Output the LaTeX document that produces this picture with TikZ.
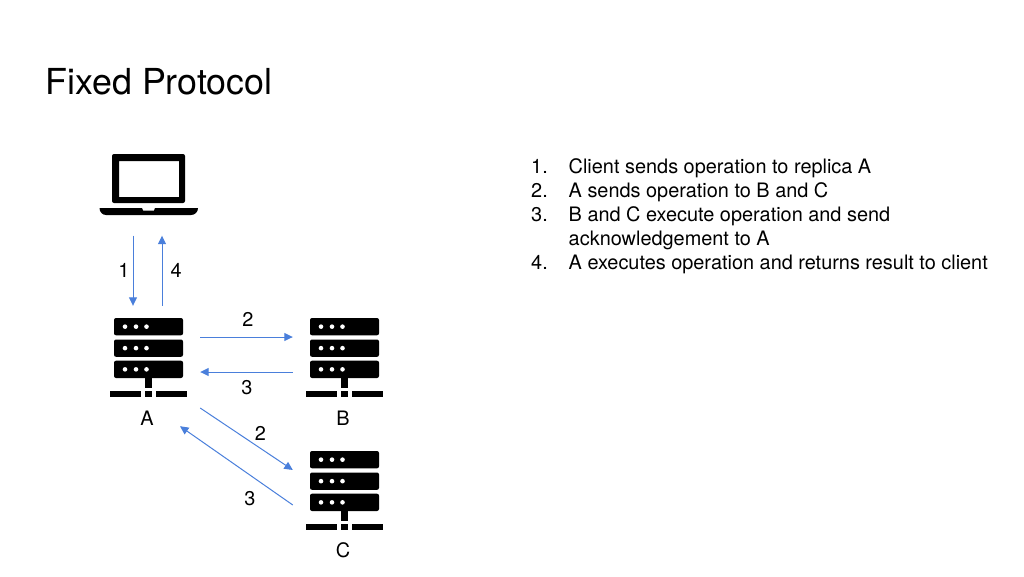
\documentclass[tikz,border=0pt]{standalone}
\usepackage{fontspec}
\setmainfont{TeX Gyre Heros}
\usetikzlibrary{arrows.meta}
\definecolor{flowblue}{HTML}{4A7FDB}
\tikzset{
    msgarrow/.style={draw=flowblue,line width=1pt,-{Triangle[length=8.5pt,width=8pt]}},
    hostbox/.style={rectangle,inner sep=0pt,minimum width=103pt,minimum height=103pt},
    steplabel/.style={inner sep=0pt,font=\fontsize{19.9}{21}\selectfont},
    listitem/.style={inner sep=0pt,anchor=base west,font=\fontsize{19.9}{21}\selectfont},
    server/.pic={
        \foreach \y in {-39.5,-18,3.2} {
            \fill[black,rounded corners=2pt] (-34.5,\y) rectangle (34.5,\y+17.3);
            \foreach \x in {-23.5,-12.5,-2} {
                \fill[white] (\x,\y+8.65) circle (2.3pt);
            }
        }
        \fill[black] (-3.5,20.5) rectangle (3.5,30);
        \fill[black] (-38.5,33.5) rectangle (-7.5,39.8);
        \fill[black] (-3.5,33.5) rectangle (3.5,39.8);
        \fill[black] (7.5,33.5) rectangle (38.5,39.8);
    },
}
\begin{document}
\begin{tikzpicture}[x=1pt,y=-1pt]
    \useasboundingbox (0,0) rectangle (1024,576);
    %% Title
    \node[inner sep=0pt,anchor=base west,font=\fontsize{35.8}{38}\selectfont] (title) at (45.5,94) {Fixed Protocol};
    %% Laptop
    \node[hostbox,minimum height=81pt] (laptop) at (148.5,195) {};
    \fill[black,even odd rule,rounded corners=2pt] (112,203) -- (112,154) -- (185,154) -- (185,203) -- cycle
        [sharp corners] (119,161) rectangle (179,197);
    \fill[black] (99.5,208) -- (142,208) -- (143,210.5) -- (154,210.5) -- (155,208) -- (198,208)
        to[out=-90,in=0] (191,215) -- (106,215) to[out=180,in=-90] (99.5,208) -- cycle;
    %% Servers
    \node[hostbox] (A) at (148.5,357.5) {};
    \node[hostbox] (B) at (344.5,357.5) {};
    \node[hostbox] (C) at (344.5,490.5) {};
    \foreach \name in {A,B,C} {
        \pic at (\name) {server};
    }
    \node[steplabel] (Alabel) at (147,418) {A};
    \node[steplabel] (Blabel) at (343,418) {B};
    \node[steplabel] (Clabel) at (343,550.5) {C};
    %% Messages
    \draw[msgarrow] ([xshift=-15.5pt]laptop.south) -- ([xshift=-15.5pt]A.north) node[steplabel,pos=0.5,left=3pt] (one) {1};
    \draw[msgarrow] ([xshift=13.5pt]A.north) -- ([xshift=13.5pt]laptop.south) node[steplabel,pos=0.5,right=8pt] (four) {4};
    \draw[msgarrow] ([yshift=20.5pt]A.east) -- ([yshift=20.5pt]B.west);
    \draw[msgarrow] ([yshift=-14.5pt]B.west) -- ([yshift=-14.5pt]A.east);
    \draw[msgarrow] ([yshift=-50.5pt]A.east) -- ([yshift=20.5pt]C.west);
    \draw[msgarrow] ([yshift=-14.5pt]C.west) -- ([xshift=31.5pt,yshift=-17pt]A.south);
    \node[steplabel] (ABlabel) at (248,319) {2};
    \node[steplabel] (BAlabel) at (247,388) {3};
    \node[steplabel] (AClabel) at (260.5,433) {2};
    \node[steplabel] (CAlabel) at (250,499) {3};
    %% Steps
    \node[listitem] (n1) at (531,173) {1.};
    \node[listitem] (t1) at (568.5,173) {Client sends operation to replica A};
    \node[listitem] (n2) at (531,197) {2.};
    \node[listitem] (t2) at (568.5,197) {A sends operation to B and C};
    \node[listitem] (n3) at (531,221) {3.};
    \node[listitem] (t3) at (568.5,221) {B and C execute operation and send};
    \node[listitem] (t3b) at (568.5,245) {acknowledgement to A};
    \node[listitem] (n4) at (531,269) {4.};
    \node[listitem] (t4) at (568.5,269) {A executes operation and returns result to client};
\end{tikzpicture}
\end{document}
